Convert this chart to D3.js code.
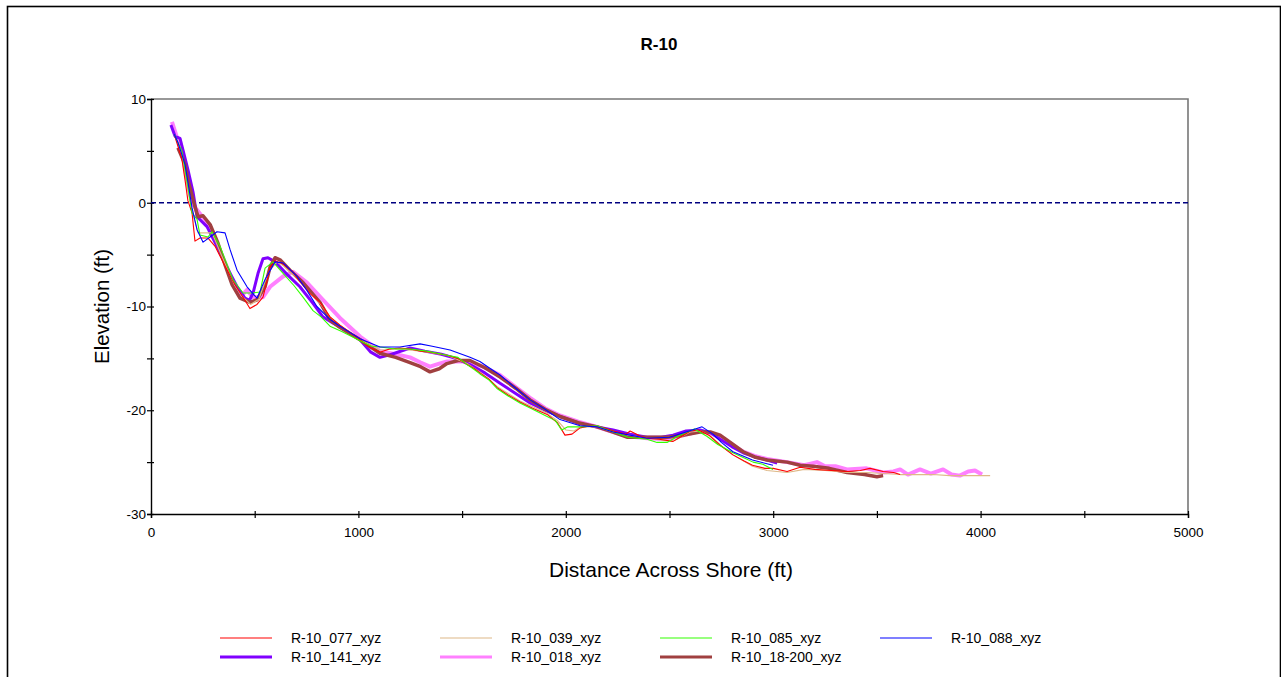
<!DOCTYPE html>
<html>
<head>
<meta charset="utf-8">
<script src="https://cdn.jsdelivr.net/npm/d3@7"></script>
<style>
  body { margin: 0; background: #fff; }
  svg { display: block; font-family: "Liberation Sans", Arial, sans-serif; }
</style>
</head>
<body>
<div id="app"></div>
<script>
// profile data, [distance ft, elevation ft]
const r077 = [[112,6.6],[149,4.2],[164,2.2],[178,0.2],[198,-1.0],[212,-3.7],[236,-3.4],[275,-3.4],[309,-4.2],[357,-6.1],[405,-7.9],[453,-9.4],[477,-10.2],[511,-9.8],[540,-9.1],[560,-7.5],[574,-6.2],[598,-5.6],[637,-5.9],[680,-6.6],[718,-7.6],[770,-8.8],[815,-9.6],[863,-11.0],[911,-11.8],[960,-12.5],[1008,-13.2],[1060,-14.0],[1104,-14.4],[1150,-14.1],[1200,-14.0],[1250,-14.1],[1300,-14.3],[1345,-14.4],[1427,-14.7],[1480,-15.0],[1524,-15.6],[1560,-16.0],[1586,-16.4],[1630,-17.0],[1668,-17.8],[1720,-18.5],[1779,-19.2],[1840,-19.8],[1910,-20.4],[1960,-21.2],[1996,-22.4],[2030,-22.3],[2069,-21.7],[2120,-21.5],[2180,-21.7],[2228,-22.0],[2290,-22.3],[2310,-22.0],[2360,-22.5],[2392,-22.7],[2450,-22.8],[2517,-23.0],[2560,-22.5],[2600,-22.0],[2640,-21.9],[2690,-22.4],[2740,-23.3],[2806,-24.3],[2860,-24.9],[2900,-25.3],[2960,-25.6],[3000,-25.6],[3067,-25.9],[3130,-25.5],[3200,-25.7],[3280,-25.8],[3356,-25.9],[3420,-25.8],[3467,-25.6],[3530,-25.9],[3580,-26.0],[3612,-26.2]];
const r141 = [[96,7.5],[116,6.4],[140,6.2],[154,5.1],[178,3.2],[203,1.0],[222,-1.35],[270,-2.3],[318,-4.2],[366,-6.2],[415,-8.1],[453,-9.2],[475,-9.4],[492,-8.7],[516,-6.8],[540,-5.4],[564,-5.3],[598,-5.7],[656,-6.9],[718,-8.1],[781,-9.7],[829,-11.0],[911,-12.0],[1008,-13.2],[1060,-14.4],[1104,-14.9],[1160,-14.6],[1249,-14.0],[1320,-14.3],[1400,-14.6],[1470,-15.0],[1538,-15.6],[1610,-16.4],[1683,-17.4],[1760,-18.4],[1828,-19.3],[1900,-20.0],[1972,-20.6],[2069,-21.3],[2150,-21.6],[2228,-21.9],[2310,-22.3],[2392,-22.6],[2460,-22.6],[2517,-22.4],[2580,-22.0],[2647,-21.9],[2700,-22.2],[2744,-22.8],[2800,-23.5],[2855,-24.1],[2910,-24.5],[2970,-24.8],[3019,-25.1]];
const r039 = [[112,6.6],[149,4.6],[178,1.2],[198,-0.8],[227,-2.9],[260,-2.9],[294,-2.9],[330,-4.6],[366,-6.3],[405,-8.0],[444,-9.1],[480,-9.8],[520,-9.3],[550,-7.6],[574,-6.5],[608,-5.7],[640,-6.1],[700,-7.2],[760,-8.6],[815,-9.7],[863,-11.0],[911,-11.8],[1008,-13.2],[1104,-14.2],[1200,-14.1],[1300,-14.3],[1427,-14.7],[1524,-15.5],[1586,-16.3],[1668,-17.7],[1779,-19.1],[1910,-20.3],[1960,-21.0],[2000,-21.9],[2040,-22.0],[2069,-21.6],[2150,-21.6],[2228,-22.1],[2392,-22.7],[2517,-23.0],[2600,-22.1],[2650,-22.0],[2700,-22.5],[2760,-23.6],[2806,-24.3],[2900,-25.4],[2970,-25.8],[3067,-26.0],[3150,-25.7],[3250,-25.8],[3356,-26.0],[3450,-26.0],[3530,-26.1],[3612,-26.2],[3700,-26.2],[3771,-26.2],[3850,-26.3],[3950,-26.3],[4046,-26.3]];
const r018 = [[101,7.8],[125,6.3],[149,5.1],[178,1.7],[198,0.0],[222,-0.7],[270,-1.9],[318,-3.9],[366,-6.2],[405,-8.1],[439,-8.9],[463,-8.4],[492,-9.1],[540,-9.1],[574,-8.1],[637,-7.1],[685,-6.65],[752,-7.7],[829,-9.35],[911,-11.1],[1008,-12.9],[1104,-14.3],[1180,-14.6],[1249,-14.9],[1300,-15.4],[1345,-15.8],[1390,-15.5],[1427,-15.3],[1524,-15.3],[1600,-15.8],[1683,-16.6],[1760,-17.8],[1828,-18.8],[1900,-19.8],[1972,-20.5],[2060,-21.1],[2151,-21.6],[2228,-22.1],[2295,-22.5],[2392,-22.7],[2488,-22.8],[2570,-22.4],[2647,-22.0],[2700,-22.2],[2744,-22.6],[2800,-23.3],[2855,-24.0],[2910,-24.4],[2970,-24.7],[3067,-25.0],[3150,-25.3],[3211,-25.0],[3250,-25.4],[3300,-25.4],[3356,-25.7],[3450,-25.6],[3530,-26.0],[3580,-25.9],[3612,-25.7],[3650,-26.2],[3708,-25.7],[3760,-26.1],[3819,-25.7],[3860,-26.2],[3900,-26.3],[3940,-25.9],[3973,-25.8],[4007,-26.2]];
const r085 = [[112,6.6],[149,5.0],[178,1.5],[198,-1.0],[222,-1.6],[236,-3.1],[275,-3.3],[294,-2.8],[333,-4.2],[395,-7.4],[444,-8.7],[487,-8.7],[526,-8.6],[550,-6.3],[588,-5.7],[637,-6.8],[690,-8.0],[733,-9.1],[781,-10.4],[820,-11.0],[863,-11.9],[920,-12.4],[1008,-13.3],[1060,-13.8],[1104,-13.9],[1180,-14.1],[1250,-14.1],[1330,-14.3],[1427,-14.7],[1480,-14.9],[1524,-15.6],[1560,-16.1],[1586,-16.5],[1630,-17.1],[1668,-17.9],[1720,-18.6],[1779,-19.3],[1840,-19.9],[1910,-20.6],[1950,-21.0],[1980,-21.9],[2010,-21.6],[2069,-21.6],[2150,-21.5],[2228,-22.1],[2300,-22.6],[2392,-22.8],[2440,-23.1],[2488,-23.1],[2540,-22.5],[2585,-22.1],[2620,-21.8],[2680,-22.5],[2733,-23.3],[2806,-24.1],[2850,-24.5],[2903,-25.0],[2950,-25.2],[2999,-25.7]];
const r18200 = [[130,5.3],[164,3.7],[178,2.2],[212,-0.4],[227,-1.35],[251,-1.25],[285,-2.1],[323,-3.9],[357,-6.0],[391,-7.9],[429,-9.2],[477,-9.6],[511,-9.35],[550,-8.1],[574,-6.2],[598,-5.3],[622,-5.5],[670,-6.5],[733,-7.7],[815,-9.6],[863,-11.3],[911,-12.0],[1008,-13.2],[1104,-14.5],[1180,-14.9],[1249,-15.4],[1300,-15.8],[1345,-16.3],[1390,-16.0],[1427,-15.5],[1480,-15.2],[1538,-15.2],[1610,-15.9],[1683,-16.8],[1760,-17.9],[1828,-19.0],[1900,-19.9],[1972,-20.6],[2060,-21.2],[2151,-21.6],[2228,-22.1],[2295,-22.6],[2392,-22.6],[2488,-22.6],[2570,-22.4],[2647,-22.1],[2700,-22.1],[2744,-22.4],[2800,-23.2],[2855,-24.0],[2910,-24.5],[2970,-24.8],[3067,-25.0],[3130,-25.3],[3192,-25.4],[3270,-25.6],[3356,-26.0],[3440,-26.2],[3500,-26.4],[3530,-26.3]];
const r088 = [[112,6.6],[130,5.8],[164,3.7],[178,2.0],[198,-0.5],[222,-2.6],[251,-3.8],[285,-3.3],[318,-2.8],[357,-2.9],[381,-4.5],[415,-6.5],[463,-8.1],[511,-9.2],[550,-7.4],[598,-5.7],[637,-5.8],[704,-7.1],[750,-8.4],[800,-10.0],[860,-11.2],[911,-11.9],[1008,-13.1],[1104,-13.9],[1200,-13.9],[1297,-13.6],[1350,-13.8],[1442,-14.2],[1538,-14.9],[1586,-15.3],[1630,-15.9],[1683,-16.6],[1760,-17.9],[1828,-19.0],[1900,-19.9],[1972,-20.9],[2069,-21.5],[2150,-21.6],[2228,-22.1],[2310,-22.4],[2392,-22.7],[2500,-22.6],[2580,-22.1],[2657,-21.6],[2710,-22.3],[2750,-23.1],[2806,-24.0],[2900,-24.8],[2999,-25.3]];

const seriesNames = ["R-10_077_xyz", "R-10_141_xyz", "R-10_039_xyz", "R-10_018_xyz", "R-10_085_xyz", "R-10_18-200_xyz", "R-10_088_xyz"];
const seriesData = [r077, r141, r039, r018, r085, r18200, r088];
const seriesColors = ["#ff0000", "#8000ff", "#deb887", "#ff80ff", "#33ff00", "#a04040", "#0000ff"];
const seriesWidths = [1.1, 3, 1.1, 4, 1.1, 3.5, 1.1];
const drawOrder = [3, 1, 5, 2, 0, 4, 6];

const xTicks = [0, 1000, 2000, 3000, 4000, 5000];
const yTicks = [-30, -20, -10, 0, 10];

const W = 1281, H = 677;
const m = { left: 151, top: 99, right: 1188, bottom: 514 };

const svg = d3.select("#app").append("svg")
  .attr("width", W).attr("height", H);

// outer frame
svg.append("rect")
  .attr("x", 7.5).attr("y", 6.5).attr("width", 1273).attr("height", 700)
  .attr("fill", "none").attr("stroke", "#000").attr("stroke-width", 1.6);

const x = d3.scaleLinear().domain([0, 5000]).range([m.left, m.right]);
const y = d3.scaleLinear().domain([-30, 10]).range([m.bottom, m.top]);

// top and right frame of plot area
svg.append("path")
  .attr("d", `M${m.left},${m.top}H${m.right}V${m.bottom}`)
  .attr("fill", "none").attr("stroke", "#777").attr("stroke-width", 1.6);

// axes
const xAxis = d3.axisBottom(x).tickValues(d3.range(0, 5001, 500))
  .tickSize(4).tickFormat(d => xTicks.includes(d) ? d : "");
const gx = svg.append("g").attr("transform", `translate(0,${m.bottom})`).call(xAxis);

const yAxis = d3.axisLeft(y).tickValues(d3.range(-30, 11, 5))
  .tickSize(4).tickFormat(d => yTicks.includes(d) ? d : "");
const gy = svg.append("g").attr("transform", `translate(${m.left},0)`).call(yAxis);

[gx, gy].forEach(g => {
  g.select(".domain").attr("stroke", "#000").attr("stroke-width", 1.4);
  g.selectAll(".tick line").attr("stroke", "#000").attr("stroke-width", 1.2);
  g.selectAll("text").attr("font-family", "Liberation Sans, Arial, sans-serif")
    .attr("font-size", 13.5).attr("fill", "#000");
});
gx.selectAll(".tick line").attr("y1", -3);
gx.selectAll("text").attr("dy", "1.15em");
gy.selectAll(".tick line").attr("x1", 3);
gy.selectAll("text").attr("x", -5);

// zero line
svg.append("line")
  .attr("x1", x(0)).attr("x2", x(5000)).attr("y1", y(0)).attr("y2", y(0))
  .attr("stroke", "#000080").attr("stroke-width", 1.3).attr("stroke-dasharray", "5,3");

// profiles
const line = d3.line().x(d => x(d[0])).y(d => y(d[1]));
drawOrder.forEach(i => {
  svg.append("path")
    .datum(seriesData[i])
    .attr("d", line)
    .attr("fill", "none")
    .attr("stroke", seriesColors[i])
    .attr("stroke-width", seriesWidths[i])
    .attr("stroke-linejoin", "round");
});

// titles
svg.append("text").attr("x", 659).attr("y", 50).attr("text-anchor", "middle")
  .attr("font-size", 17).attr("font-weight", "bold").text("R-10");
svg.append("text").attr("x", 671).attr("y", 577).attr("text-anchor", "middle")
  .attr("font-size", 21).text("Distance Across Shore (ft)");
svg.append("text").attr("transform", `translate(109,${(m.top + m.bottom) / 2}) rotate(-90)`)
  .attr("text-anchor", "middle").attr("font-size", 20.5).text("Elevation (ft)");

// legend, filled column by column in 2 rows
const legCols = [220, 440, 660, 880];
const legRows = [638, 657];
seriesNames.forEach((name, i) => {
  const cx = legCols[Math.floor(i / 2)], cy = legRows[i % 2];
  svg.append("line").attr("x1", cx).attr("x2", cx + 52).attr("y1", cy).attr("y2", cy)
    .attr("stroke", seriesColors[i]).attr("stroke-width", Math.min(seriesWidths[i], 3));
  svg.append("text").attr("x", cx + 71).attr("y", cy + 5)
    .attr("font-size", 14).text(name);
});
</script>
</body>
</html>
